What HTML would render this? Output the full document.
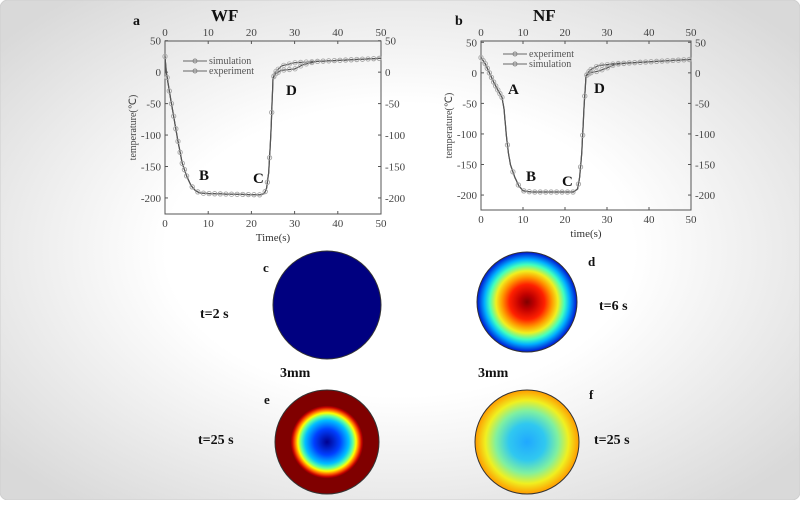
<!DOCTYPE html>
<html><head><meta charset="utf-8"><style>
body{margin:0;width:800px;height:500px;overflow:hidden;}
svg text{font-family:"Liberation Serif",serif;}
</style></head><body>
<svg id="s" width="800" height="500" xmlns="http://www.w3.org/2000/svg">
<defs>
<radialGradient id="bg" cx="50%" cy="50%" r="65%">
<stop offset="0.45" stop-color="#ffffff"/><stop offset="1" stop-color="#d9d9d9"/></radialGradient>
<radialGradient id="gd" cx="50%" cy="50%" r="50%">
<stop offset="0" stop-color="#7f0000"/><stop offset="0.15" stop-color="#c00000"/><stop offset="0.35" stop-color="#ff2000"/>
<stop offset="0.5" stop-color="#ff9a00"/><stop offset="0.62" stop-color="#f0f020"/><stop offset="0.75" stop-color="#40ffc0"/>
<stop offset="0.85" stop-color="#00b0ff"/><stop offset="1" stop-color="#0010d0"/></radialGradient>
<radialGradient id="ge" cx="50%" cy="50%" r="50%">
<stop offset="0" stop-color="#00008f"/><stop offset="0.25" stop-color="#0040ff"/><stop offset="0.42" stop-color="#00c0ff"/>
<stop offset="0.5" stop-color="#60ffa0"/><stop offset="0.56" stop-color="#ffff00"/><stop offset="0.62" stop-color="#ff6000"/>
<stop offset="0.67" stop-color="#c00000"/><stop offset="0.7" stop-color="#800000"/><stop offset="1" stop-color="#800000"/></radialGradient>
<radialGradient id="gf" cx="50%" cy="50%" r="50%">
<stop offset="0" stop-color="#20a8ff"/><stop offset="0.35" stop-color="#30c8f0"/><stop offset="0.6" stop-color="#80f0a0"/>
<stop offset="0.8" stop-color="#f0f020"/><stop offset="1" stop-color="#ff9a00"/></radialGradient>
</defs>
<rect x="0" y="0" width="800" height="500" rx="8" fill="url(#bg)" stroke="#cfcfcf"/>
<g id="charts"></g>
<circle cx="327" cy="305" r="54" fill="#000080" stroke="#333"/>
<circle cx="527" cy="302" r="50" fill="url(#gd)" stroke="#333"/>
<circle cx="327" cy="442" r="52" fill="url(#ge)" stroke="#333"/>
<circle cx="527" cy="442" r="52" fill="url(#gf)" stroke="#333"/>
<g font-weight="bold" font-size="14" fill="#111">
<text x="263" y="272" font-size="13">c</text>
<text x="588" y="266" font-size="13">d</text>
<text x="264" y="404" font-size="13">e</text>
<text x="589" y="399" font-size="13">f</text>
<text x="200" y="318">t=2 s</text>
<text x="599" y="310">t=6 s</text>
<text x="280" y="377">3mm</text>
<text x="478" y="377">3mm</text>
<text x="198" y="444">t=25 s</text>
<text x="594" y="444">t=25 s</text>
<text x="211" y="21" font-size="17">WF</text>
<text x="533" y="21" font-size="17">NF</text>
<text x="133" y="25" font-size="14">a</text>
<text x="455" y="25" font-size="14">b</text>
</g>
</svg>
<script>
const NS="http://www.w3.org/2000/svg",G=document.getElementById("charts");
function el(t,a,txt){const e=document.createElementNS(NS,t);for(const k in a)e.setAttribute(k,a[k]);if(txt!==undefined)e.textContent=txt;G.appendChild(e);return e;}
function interp(p,t){for(let i=1;i<p.length;i++){if(t<=p[i][0]){const a=p[i-1],b=p[i];return a[1]+(b[1]-a[1])*(t-a[0])/(b[0]-a[0]);}}return p[p.length-1][1];}
function chart(c){
 const X=t=>c.x0+t*(c.x1-c.x0)/50,Y=v=>c.y50+(50-v)*c.k;
 el("rect",{x:c.x0,y:c.top,width:c.x1-c.x0,height:c.bot-c.top,fill:"none",stroke:"#555","stroke-width":1});
 for(let t=0;t<=50;t+=10){
  el("text",{x:X(t),y:c.bot+13,"font-size":11,fill:"#444","text-anchor":"middle"},t);
  el("text",{x:X(t),y:c.top-5,"font-size":11,fill:"#444","text-anchor":"middle"},t);
  el("line",{x1:X(t),x2:X(t),y1:c.bot,y2:c.bot-3,stroke:"#555"});
  el("line",{x1:X(t),x2:X(t),y1:c.top,y2:c.top+3,stroke:"#555"});}
 for(let v=50;v>=-200;v-=50){
  el("text",{x:c.x0-4,y:Y(v)+4,"font-size":11,fill:"#444","text-anchor":"end"},v);
  el("text",{x:c.x1+4,y:Y(v)+4,"font-size":11,fill:"#444"},v);
  el("line",{x1:c.x0,x2:c.x0+3,y1:Y(v),y2:Y(v),stroke:"#555"});
  el("line",{x1:c.x1,x2:c.x1-3,y1:Y(v),y2:Y(v),stroke:"#555"});}
 el("text",{x:(c.x0+c.x1)/2,y:c.bot+27,"font-size":11,fill:"#333","text-anchor":"middle"},c.xl);
 el("text",{x:0,y:0,"font-size":10,fill:"#444","text-anchor":"middle",transform:`translate(${c.x0-29},${(c.top+c.bot)/2}) rotate(-90)`},"temperature(℃)");
 for(const s of c.series){
  const d=[];for(let t=0;t<=50;t+=0.1)d.push((d.length?"L":"M")+X(t).toFixed(1)+","+Y(interp(s,t)).toFixed(1));
  el("path",{d:d.join(""),fill:"none",stroke:"#555","stroke-width":1.2});
  for(let t=0;t<=50;t+=(t<5||(t>23&&t<26)?0.5:1.3)){el("circle",{cx:X(t),cy:Y(interp(s,t)),r:2.2,fill:"none",stroke:"#aaa","stroke-width":0.8});}
 }
 c.leg.forEach((l,i)=>{const y=c.ly+i*10;el("line",{x1:c.lx,x2:c.lx+24,y1:y,y2:y,stroke:"#666"});
  el("circle",{cx:c.lx+12,cy:y,r:2,fill:"none",stroke:"#888"});
  el("text",{x:c.lx+26,y:y+3,"font-size":10,fill:"#555","font-family":"Liberation Mono,monospace"},l);});
 c.lab.forEach(l=>el("text",{x:l[1],y:l[2],"font-size":15,"font-weight":"bold",fill:"#111"},l[0]));
}
const wfs=[[0,25],[0.3,0],[1,-30],[2,-70],[3,-110],[4,-145],[5,-165],[6,-180],[7,-188],[8,-192],[10,-193],[15,-194],[22,-195],[23,-193],[23.5,-185],[24,-160],[24.5,-100],[25,-10],[25.5,0],[27,10],[30,15],[35,17],[50,22]];
const wfe=wfs.slice(0,18).concat([[25.5,-3],[27,3],[30,5],[32,12],[35,17],[50,22]]);
chart({x0:165,x1:381,top:41,bot:214,y50:40.7,k:0.629,xl:"Time(s)",series:[wfs,wfe],leg:["simulation","experiment"],lx:183,ly:61,
 lab:[["B",199,180],["C",253,183],["D",286,95]]});
const nfs=[[0,25],[1,15],[2,0],[3,-15],[4,-28],[5,-40],[5.5,-60],[6,-100],[6.5,-130],[7,-150],[8,-170],[9,-185],[10,-193],[12,-195],[22,-195],[23,-190],[23.5,-170],[24,-130],[24.5,-60],[25,-5],[26,5],[28,12],[32,15],[50,22]];
const nfe=nfs.slice(0,20).concat([[26,0],[28,3],[30,8],[32,14],[35,16],[50,22]]);
chart({x0:481,x1:691,top:41,bot:210,y50:42.3,k:0.611,xl:"time(s)",series:[nfe,nfs],leg:["experiment","simulation"],lx:503,ly:54,
 lab:[["A",508,94],["B",526,181],["C",562,186],["D",594,93]]});
</script>
</body></html>
